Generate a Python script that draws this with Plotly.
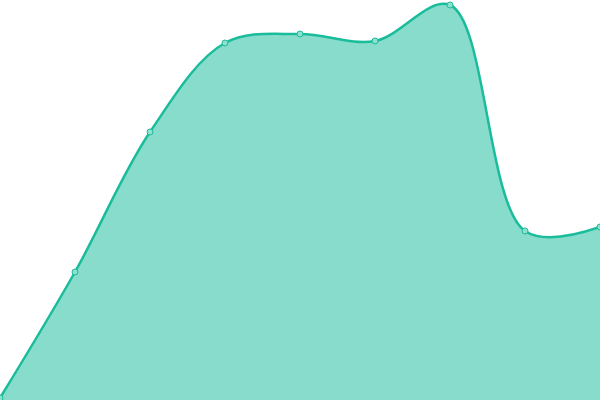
import plotly.graph_objects as go

# x positions (index) and values (0 = bottom edge, 400 = top edge)
x_idx = [0, 1, 2, 3, 4, 5, 6, 7, 8]
values = [2, 128, 268, 357, 366, 359, 395, 169, 173]

LINE = "#1abc9c"
FILL = "rgba(26,188,156,0.52)"

fig = go.Figure()
fig.add_trace(
    go.Scatter(
        x=x_idx,
        y=values,
        mode="lines+markers",
        line=dict(color=LINE, width=2.5, shape="spline", smoothing=1),
        fill="tozeroy",
        fillcolor=FILL,
        marker=dict(size=6, color="#8ce0ce", line=dict(color=LINE, width=1)),
        hoverinfo="skip",
        cliponaxis=False,
    )
)

fig.update_layout(
    autosize=True,
    margin=dict(l=0, r=0, t=0, b=0),
    paper_bgcolor="white",
    plot_bgcolor="white",
    showlegend=False,
    xaxis=dict(visible=False, range=[0, 8], fixedrange=True),
    yaxis=dict(visible=False, range=[0, 400], fixedrange=True),
)

fig.write_html(
    "out.html",
    default_width="100vw",
    default_height="100vh",
    config=dict(displayModeBar=False, responsive=True),
    post_script="document.body.style.margin='0';document.body.style.overflow='hidden';",
)
